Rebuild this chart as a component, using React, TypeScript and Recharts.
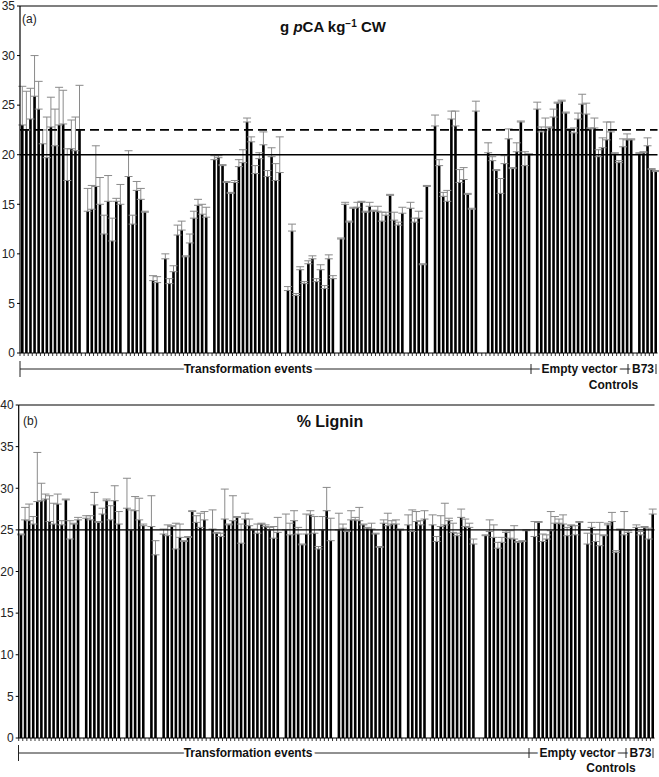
import { BarChart, Bar, XAxis, YAxis, ErrorBar, ReferenceLine } from 'recharts';

const FONT = '"Liberation Sans", Arial, Helvetica, sans-serif';

// (a) g pCA kg-1 CW, one entry per slot on the x axis (null = empty slot)
const pcaMean = [
  23.0, 22.5, 23.6, 25.9, 24.6, 21.1, 19.7, 22.8, 20.9, 23.0, 23.1, 17.4, 20.6, 20.4, 22.5, null,
  14.3, 14.5, 16.8, 15.0, 12.0, 15.3, 11.3, 15.3, 15.0, null,
  17.8, 13.0, 16.4, 15.5, 14.2, null,
  7.3, 7.1, null,
  9.5, 7.0, 8.2, 11.9, 12.4, 9.7, 11.1, 13.6, 14.9, 14.0, 13.7, null,
  19.5, 19.7, 18.9, 17.2, 16.1, 17.2, 18.8, 19.2, 23.3, 21.3, 18.1, 19.6, 21.0, 17.8, 19.8, 17.4, 18.2, null,
  6.3, 12.3, 5.8, 8.4, 7.0, 9.0, 9.5, 7.2, 8.4, 6.5, 9.5, 7.5, null,
  11.5, 15.0, 13.2, 14.6, 14.7, 15.2, 14.2, 14.8, 14.3, 14.3, 13.3, 13.9, 15.9, 13.4, 12.9, 14.1, null,
  14.6, 13.2, 13.6, 8.9, 16.8, null,
  22.9, 18.9, 15.8, 15.3, 23.6, 22.9, 17.2, 17.5, 16.0, 14.5, 24.4, null, null,
  20.2, 19.4, 18.4, 16.1, 19.1, 21.6, 18.6, 20.3, 23.3, 18.9, 20.0,
  // empty vector
  null,
  24.6, 22.3, 22.5, 22.7, 23.8, 25.2, 25.4, 24.2, 22.5, 22.2, 23.6, 25.1,
  24.1, 22.6, 22.7, 19.8, 20.7, 21.5, 22.3, 20.1, 19.2, 20.8, 21.5,
  // B73
  21.5, null, 20.1, 20.2, 20.9, 18.5, 18.3,
];

const pcaErr = [
  3.9, 3.9, 3.1, 4.1, 2.8, 1.4, 4.1, 3.0, 3.7, 3.8, 3.4, 3.2, 2.9, 3.4, 4.5, null,
  2.3, 2.4, 4.1, 2.7, 1.9, 2.6, 2.3, 0.3, 2.0, null,
  2.6, 0.9, 0.9, 1.1, 0.1, null,
  0.5, 0.6, null,
  0.5, 0.5, 0.6, 1.0, 0.9, 0.1, 0.9, 0.7, 0.6, 1.0, 1.0, null,
  0.4, 0.2, 0.1, 0.1, 0.1, 0.2, 0.7, 1.3, 0.4, 0.5, 0.8, 0.6, 1.3, 0.6, 0.9, 1.7, 3.6, null,
  0.4, 0.7, 0.2, 0.3, 0.2, 0.3, 0.3, 0.3, 0.5, 0.3, 0.4, 0.3, null,
  0.1, 0.2, 0.1, 0.1, 0.5, 0.1, 0.1, 0.4, 0.1, 0.5, 0.9, 0.3, 0.1, 0.8, 0.3, 0.6, null,
  0.6, 0.4, 0.7, 0.1, 0.1, null,
  1.1, 0.6, 0.4, 1.1, 0.8, 1.5, 1.3, 1.2, 0.1, 0.1, 1.0, null, null,
  1.0, 0.4, 0.1, 1.5, 0.8, 1.0, 0.1, 0.9, 0.1, 1.4, 0.1,
  null,
  0.7, 0.5, 1.2, 0.1, 0.8, 0.1, 0.1, 0.1, 0.1, 0.5, 0.6, 1.0,
  1.1, 0.1, 1.0, 0.7, 1.0, 1.8, 1.0, 0.1, 0.2, 0.8, 0.6,
  0.1, null, 0.1, 0.1, 0.8, 0.1, 0.1,
];

// (b) % lignin
const ligMean = [
  24.4, 26.2, 26.1, 25.7, 28.4, 28.5, 28.7, 26.0, 25.7, 28.1, 25.6, 28.6, 23.9, 25.7, 26.2, null,
  26.4, 26.2, 28.0, 25.9, 26.9, 28.5, 26.2, 28.5, 25.7, null,
  27.6, 25.0, 27.3, 26.2, 25.5, null,
  25.4, 22.0, null,
  24.5, 24.3, 25.4, 22.7, 24.1, 23.6, 24.1, 27.2, 25.9, 25.3, 26.2, null,
  25.1, 24.6, 24.2, 26.3, 25.6, 26.1, 26.5, 23.4, 26.3, 25.5, 25.0, 24.6, 25.7, 25.4, 25.0, 24.0, 24.7, null,
  25.0, 24.4, 26.1, 24.5, 23.2, 24.5, 26.8, 24.6, 22.7, 25.0, 27.3, 23.7, null,
  25.0, 25.2, 24.8, 26.2, 26.2, 26.1, 25.6, 25.2, 25.1, 24.5, 22.9, 25.8, 25.5, 25.7, 25.7, 25.0, null,
  25.6, 24.8, 26.0, 25.6, 26.3, null,
  25.6, 23.6, 25.4, 25.6, 26.1, 24.7, 24.3, 26.5, 25.4, 25.3, 23.3, null, null,
  24.3, 24.8, 24.1, 22.8, 23.5, 24.7, 24.0, 23.9, 23.5, 23.6, 24.9,
  // empty vector
  null,
  24.2, 25.9, 23.6, 23.9, 24.9, 25.8, 25.8, 25.7, 24.3, 25.5, 24.4, 25.9, null,
  23.3, 25.3, 23.6, 23.1, 24.3, 25.6, 26.0, 22.3, 25.0, 24.4,
  // B73
  24.7, null, 25.3, 24.4, 25.3, 23.9, 26.9,
];

const ligErr = [
  0.1, 1.5, 2.0, 0.9, 5.9, 2.1, 0.6, 3.1, 2.5, 1.2, 0.5, 0.1, 2.2, 0.1, 0.3, null,
  0.3, 0.5, 1.5, 0.1, 0.7, 0.2, 1.7, 1.8, 1.5, null,
  3.6, 2.4, 1.7, 2.6, 0.2, null,
  3.7, 1.7, null,
  0.6, 1.3, 0.1, 3.1, 1.6, 0.1, 0.1, 0.1, 0.8, 1.7, 1.0, null,
  2.3, 0.1, 0.4, 3.6, 0.1, 3.0, 0.1, 2.3, 0.7, 0.8, 0.1, 1.1, 0.1, 0.2, 0.3, 1.4, 1.8, null,
  1.9, 1.4, 1.2, 0.8, 0.1, 2.4, 0.5, 2.0, 0.3, 1.6, 2.8, 2.7, null,
  2.0, 0.5, 0.1, 1.1, 0.3, 1.6, 0.1, 0.1, 0.7, 0.1, 0.1, 0.4, 1.5, 0.4, 0.5, 0.1, null,
  1.2, 2.6, 1.2, 0.5, 1.0, null,
  1.2, 0.6, 1.3, 2.6, 0.3, 1.1, 0.3, 1.0, 0.9, 0.5, 0.6, null, null,
  0.1, 1.4, 1.5, 0.7, 0.6, 0.2, 0.9, 1.6, 0.1, 0.1, 0.1,
  null,
  1.8, 0.1, 0.9, 0.5, 2.3, 0.8, 0.5, 1.1, 1.0, 0.1, 1.1, 0.1, null,
  1.3, 0.6, 0.9, 2.8, 0.1, 0.2, 1.1, 0.2, 0.1, 2.8,
  0.2, null, 0.3, 0.4, 0.1, 1.3, 0.6,
];

const pcaTicks = [0, 5, 10, 15, 20, 25, 30, 35];
const ligTicks = [0, 5, 10, 15, 20, 25, 30, 35, 40];
const pcaSolid = 20;
const pcaDashed = 22.5;
const ligSolid = 25;

const rows = pcaMean.map((v, i) => ({
  slot: String(i + 1),
  pca: v,
  pcaErr: v == null ? null : [0, pcaErr[i]],
  lig: ligMean[i],
  ligErr: ligMean[i] == null ? null : [0, ligErr[i]],
}));

// small tick at the left edge of each category band
const BandTick = ({ x, y, payload }: any) => {
  const off = payload?.offset ?? 0;
  return <line x1={x - off} x2={x - off} y1={y} y2={y + 3} stroke="#000" strokeWidth={0.8} />;
};

function Panel({ dataKey, errKey, ticks, width, height, margin, yWidth, children }: any) {
  const max = ticks[ticks.length - 1];
  return (
    <BarChart width={width} height={height} data={rows} margin={margin}>
      <XAxis
        dataKey="slot"
        height={7}
        interval={0}
        tickLine={false}
        tickSize={0}
        tickMargin={0}
        tick={<BandTick />}
        axisLine={{ stroke: '#000', strokeWidth: 1.2 }}
      />
      <YAxis
        domain={[0, max]}
        ticks={ticks}
        interval={0}
        width={yWidth}
        tickSize={3}
        tickMargin={2}
        allowDataOverflow
        axisLine={{ stroke: '#000', strokeWidth: 1.2 }}
        tickLine={{ stroke: '#000' }}
        tick={{ fontSize: 12, fill: '#222', fontFamily: FONT }}
      />
      <YAxis
        yAxisId="frame"
        orientation="right"
        width={0}
        domain={[0, max]}
        tick={false}
        tickLine={false}
        axisLine={{ stroke: '#9a9a9a', strokeWidth: 1.5 }}
      />
      <Bar dataKey={dataKey} fill="#000" barSize={2.6} isAnimationActive={false}>
        <ErrorBar dataKey={errKey} width={4} stroke="#8a8a8a" strokeWidth={1} direction="y" />
      </Bar>
      <ReferenceLine y={max} stroke="#000" strokeWidth={1.2} />
      {children}
    </BarChart>
  );
}

function Bracket({ y, x0, sep1, sep2, x1, labelY, controlsY }: any) {
  const halo = { stroke: '#fff', strokeWidth: 5, paintOrder: 'stroke' } as any;
  const txt = { fontFamily: FONT, fontSize: 12, fontWeight: 'bold', fill: '#111', textAnchor: 'middle' } as any;
  return (
    <g>
      <line x1={x0} x2={x1} y1={y} y2={y} stroke="#222" strokeWidth={1} />
      <text x={248} y={labelY} {...txt} {...halo}>Transformation events</text>
      <text x={(sep1 + sep2) / 2} y={labelY} {...txt} {...halo}>Empty vector</text>
      <text x={(sep2 + x1) / 2 + 1} y={labelY} {...txt} {...halo}>B73</text>
      <text x={(sep1 + x1) / 2 + 20} y={controlsY} {...txt}>Controls</text>
      <line x1={x0} x2={x0} y1={y - 8} y2={y + 8} stroke="#222" strokeWidth={1} />
      <line x1={sep1} x2={sep1} y1={y - 5} y2={y + 5} stroke="#222" strokeWidth={1} />
      <line x1={sep2} x2={sep2} y1={y - 5} y2={y + 5} stroke="#222" strokeWidth={1} />
      <line x1={x1} x2={x1} y1={y - 5} y2={y + 5} stroke="#222" strokeWidth={1} />
    </g>
  );
}

export default function App() {
  return (
    <div style={{ position: 'absolute', left: 0, top: 0, width: 659, height: 777, background: '#fff', fontFamily: FONT }}>
      <div style={{ position: 'absolute', left: 0, top: 0 }}>
        <Panel
          dataKey="pca"
          errKey="pcaErr"
          ticks={pcaTicks}
          width={659}
          height={360}
          yWidth={20}
          margin={{ top: 6, right: 1.5, left: 0, bottom: 0 }}
        >
          <ReferenceLine y={pcaSolid} stroke="#000" strokeWidth={1.4} />
          <ReferenceLine y={pcaDashed} stroke="#000" strokeWidth={1.7} strokeDasharray="9 5" />
        </Panel>
      </div>
      <div style={{ position: 'absolute', left: 0, top: 398 }}>
        <Panel
          dataKey="lig"
          errKey="ligErr"
          ticks={ligTicks}
          width={659}
          height={347}
          yWidth={18.7}
          margin={{ top: 7, right: 4.5, left: 0, bottom: 0 }}
        >
          <ReferenceLine y={ligSolid} stroke="#000" strokeWidth={1.4} />
        </Panel>
      </div>
      <svg width={659} height={777} style={{ position: 'absolute', left: 0, top: 0, pointerEvents: 'none' }}>
        <text x={22} y={23} fontSize={12} fontFamily={FONT} fill="#222">(a)</text>
        <text x={23} y={425} fontSize={12} fontFamily={FONT} fill="#222">(b)</text>
        <text x={333} y={32} fontSize={15} fontWeight="bold" fontFamily={FONT} fill="#111" textAnchor="middle">
          g <tspan fontStyle="italic">p</tspan>CA kg<tspan dy={-5} fontSize={10}>−1</tspan>
          <tspan dy={5}> CW</tspan>
        </text>
        <text x={330} y={427} fontSize={16} fontWeight="bold" fontFamily={FONT} fill="#111" textAnchor="middle">
          % Lignin
        </text>
        <Bracket y={369} x0={20} sep1={531} sep2={628} x1={656} labelY={373} controlsY={389} />
        <Bracket y={753} x0={18.5} sep1={529} sep2={626} x1={653} labelY={757} controlsY={772} />
      </svg>
    </div>
  );
}
